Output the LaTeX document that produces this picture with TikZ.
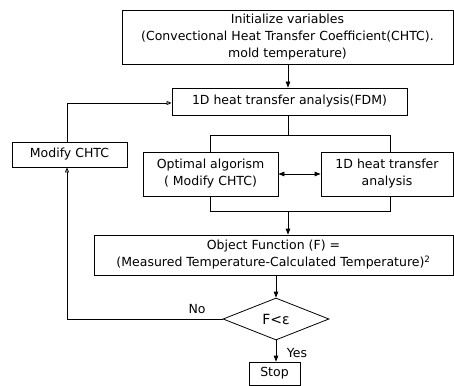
\documentclass[tikz,border=0pt]{standalone}
\usepackage{fontspec}
\setmainfont{DejaVu Sans}
\usetikzlibrary{arrows.meta,shapes.geometric}
\tikzset{
  box/.style={draw, line width=0.8pt, inner sep=0pt, align=center, font=\fontsize{12.5}{17}\selectfont},
  link/.style={line width=0.8pt},
  arr/.style={link, -{Triangle[length=6pt,width=4.5pt]}},
  darr/.style={link, {Triangle[length=6pt,width=4.5pt]}-{Triangle[length=6pt,width=4.5pt]}},
  oarr/.style={link, -{Triangle[open,length=5pt,width=4pt]}},
  lbl/.style={font=\fontsize{12.5}{14}\selectfont, inner sep=0pt}
}
\begin{document}
\begin{tikzpicture}[x=1pt,y=-1pt]
\useasboundingbox (0,0) rectangle (454,385);
\node[box, minimum width=331pt, minimum height=54pt] (init) at (287.5,37)
  {Initialize variables\\(Convectional Heat Transfer Coefficient(CHTC).\\mold temperature)};
\node[box, minimum width=235pt, minimum height=27pt] (fdm) at (289.5,101.5)
  {1D heat transfer analysis(FDM)};
\node[box, minimum width=115pt, minimum height=25pt] (mod) at (69.5,154.5) {Modify CHTC};
\node[box, minimum width=135pt, minimum height=44pt] (opt) at (210.5,174) {Optimal algorism\\( Modify CHTC)};
\node[box, minimum width=132pt, minimum height=44pt] (ana) at (387,174) {1D heat transfer\\analysis};
\node[box, minimum width=359pt, minimum height=40pt] (obj) at (273.5,255)
  {Object Function (F) =\\(Measured Temperature-Calculated Temperature)\textsuperscript{2}};
\node[draw, line width=0.8pt, diamond, aspect=2.5, minimum width=106pt, minimum height=42pt, inner sep=0pt,
  font=\fontsize{14}{16}\selectfont] (dec) at (276,319) {F<ε};
\node[box, minimum width=51pt, minimum height=23pt] (stop) at (274.5,373.5) {Stop};

\coordinate (tb) at (288,135);
\coordinate (tl) at (210,135);
\coordinate (tr) at (390,135);
\coordinate (bb) at (288,211);
\coordinate (bl) at (210,211);
\coordinate (br) at (390,211);
\coordinate (lx) at (67,319);
\coordinate (ly) at (67,103);

\draw[arr] (init.south -| tb) -- (fdm.north -| tb);
\draw[link] (fdm.south -| tb) -- (tb);
\draw[link] (tl |- opt.north) -- (tl) -- (tr) -- (tr |- ana.north);
\draw[link] (bl |- opt.south) -- (bl) -- (br) -- (br |- ana.south);
\draw[darr] (opt.east) -- (ana.west);
\draw[arr] (bb) -- (obj.north -| bb);
\draw[arr] (obj.south -| dec.north) -- (dec.north);
\draw[arr] (dec.south) -- (stop.north -| dec.south);
\draw[oarr] (dec.west) -- (lx) -- (lx |- mod.south);
\draw[oarr] (ly |- mod.north) -- (ly) -- (fdm.west |- ly);

\node[lbl] (no) at (197,309) {No};
\node[lbl] (yes) at (297,353) {Yes};
\end{tikzpicture}
\end{document}
